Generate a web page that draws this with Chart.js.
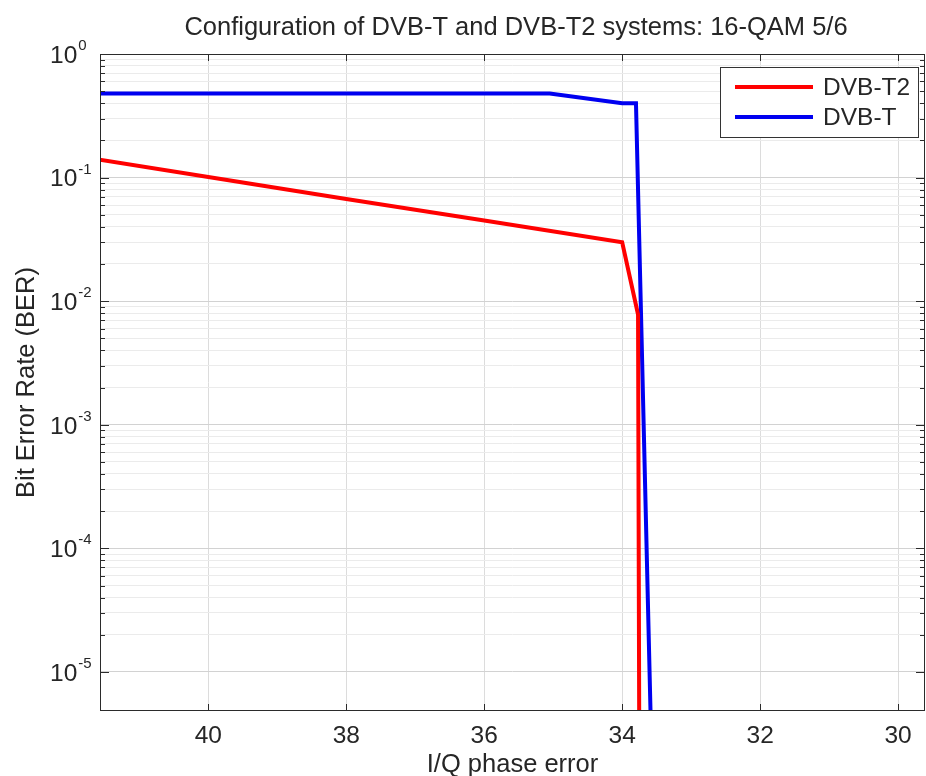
<!DOCTYPE html>
<html>
<head>
<meta charset="utf-8">
<title>DVB-T / DVB-T2 BER vs I/Q phase error</title>
<script src="https://cdn.jsdelivr.net/npm/chart.js@4.4.1/dist/chart.umd.min.js"></script>
<style>
  html, body { margin: 0; padding: 0; background: #ffffff; }
  #chart { display: block; }
</style>
</head>
<body>
<canvas id="chart" width="926" height="776"></canvas>
<script>
// DVB-T2 curve: I/Q phase error vs bit error rate
const t2Phase = [42, 40, 38, 36, 34.0, 33.77, 33.75];
const t2Ber   = [0.152, 0.101, 0.067, 0.045, 0.030, 0.0078, 1e-6];

// DVB-T curve
const tPhase = [42, 35.05, 34.0, 33.8, 33.56];
const tBer   = [0.48, 0.48, 0.40, 0.40, 1e-6];

// axis ticks
const phaseTicks = [40, 38, 36, 34, 32, 30];
const berExponents = [0, -1, -2, -3, -4, -5];

const seriesNames = ['DVB-T2', 'DVB-T'];
const seriesColors = ['#ff0000', '#0000f0'];

const titleText = 'Configuration of DVB-T and DVB-T2 systems: 16-QAM 5/6';
const xTitle = 'I/Q phase error';
const yTitle = 'Bit Error Rate (BER)';

const FONT = "'Liberation Sans', Arial, Helvetica, sans-serif";
const TEXT = '#262626';
const AXIS = '#2b2b2b';

function toPoints(xs, ys) {
  return xs.map((v, i) => ({ x: v, y: ys[i] }));
}

function isDecade(v) {
  const l = Math.log10(v);
  return Math.abs(l - Math.round(l)) < 1e-9;
}

// box, inward tick marks, superscript tick labels, title and legend
const framePlugin = {
  id: 'frame',
  afterDraw(chart) {
    const { ctx, chartArea: a, scales } = chart;
    const xs = scales.x, ys = scales.y;
    ctx.save();
    ctx.strokeStyle = AXIS;
    ctx.lineWidth = 1;
    ctx.strokeRect(a.left + 0.5, a.top + 0.5, a.right - a.left - 1, a.bottom - a.top - 1);

    ctx.beginPath();
    phaseTicks.forEach(v => {
      const px = Math.round(xs.getPixelForValue(v)) + 0.5;
      ctx.moveTo(px, a.bottom); ctx.lineTo(px, a.bottom - 7);
      ctx.moveTo(px, a.top); ctx.lineTo(px, a.top + 7);
    });
    ys.ticks.forEach(t => {
      const py = Math.round(ys.getPixelForValue(t.value)) + 0.5;
      const len = isDecade(t.value) ? 9 : 5;
      ctx.moveTo(a.left, py); ctx.lineTo(a.left + len, py);
      ctx.moveTo(a.right, py); ctx.lineTo(a.right - len, py);
    });
    ctx.stroke();

    // y tick labels: 10 with raised exponent
    ctx.fillStyle = TEXT;
    ctx.textBaseline = 'middle';
    ctx.textAlign = 'left';
    berExponents.forEach(e => {
      const py = ys.getPixelForValue(Math.pow(10, e));
      ctx.font = '24.5px ' + FONT;
      ctx.fillText('10', 50, py + 2);
      const w = ctx.measureText('10').width;
      ctx.font = '15px ' + FONT;
      ctx.fillText(e === 0 ? '0' : '-' + Math.abs(e), 50 + w + 1, py - 8);
    });

    // title
    ctx.font = '25.5px ' + FONT;
    ctx.textAlign = 'center';
    ctx.fillText(titleText, (a.left + a.right) / 2 + 3.5, 28);

    // legend
    const lx = 720, ly = 67, lw = 198, lh = 70;
    ctx.fillStyle = '#ffffff';
    ctx.fillRect(lx, ly, lw, lh);
    ctx.strokeStyle = '#333333';
    ctx.lineWidth = 1;
    ctx.strokeRect(lx + 0.5, ly + 0.5, lw, lh);
    seriesNames.forEach((name, i) => {
      const yy = 87 + i * 30;
      ctx.strokeStyle = seriesColors[i];
      ctx.lineWidth = 4;
      ctx.beginPath();
      ctx.moveTo(735, yy); ctx.lineTo(813, yy);
      ctx.stroke();
      ctx.fillStyle = TEXT;
      ctx.font = '24.5px ' + FONT;
      ctx.textAlign = 'left';
      ctx.fillText(name, 823, yy + 1);
    });
    ctx.restore();
  }
};

new Chart(document.getElementById('chart'), {
  type: 'line',
  data: {
    datasets: [
      {
        label: seriesNames[0],
        data: toPoints(t2Phase, t2Ber),
        borderColor: seriesColors[0],
        borderWidth: 4,
        pointRadius: 0,
        tension: 0,
        clip: 0
      },
      {
        label: seriesNames[1],
        data: toPoints(tPhase, tBer),
        borderColor: seriesColors[1],
        borderWidth: 4,
        pointRadius: 0,
        tension: 0,
        clip: 0
      }
    ]
  },
  options: {
    responsive: false,
    animation: false,
    devicePixelRatio: 1,
    layout: { padding: { top: 54, right: 1, left: 0, bottom: 0 } },
    plugins: {
      legend: { display: false },
      tooltip: { enabled: false },
      title: { display: false }
    },
    scales: {
      x: {
        type: 'linear',
        reverse: true,
        min: 29.61,
        max: 41.57,
        afterBuildTicks: s => { s.ticks = phaseTicks.map(v => ({ value: v })); },
        afterFit: s => { s.height = 65; },
        border: { display: false },
        grid: { color: '#dcdcdc', lineWidth: 1, drawTicks: false },
        ticks: {
          color: TEXT,
          font: { family: FONT, size: 24.5 },
          padding: 11,
          maxRotation: 0,
          autoSkip: false
        },
        title: {
          display: true,
          text: xTitle,
          color: TEXT,
          font: { family: FONT, size: 25.5 },
          padding: { top: 0, bottom: -4 }
        }
      },
      y: {
        type: 'logarithmic',
        min: 4.83e-6,
        max: 1,
        afterBuildTicks: s => {
          const out = [];
          berExponents.slice().reverse().forEach(e => {
            for (let m = 1; m <= 9; m++) {
              const v = m * Math.pow(10, e);
              if (v >= s.min * 0.999 && v <= s.max * 1.001) out.push({ value: v });
            }
          });
          s.ticks = out;
        },
        afterFit: s => { s.width = 100; },
        border: { display: false },
        grid: {
          drawTicks: false,
          lineWidth: 1,
          color: c => (c.tick && isDecade(c.tick.value)) ? '#d2d2d2' : '#ebebeb'
        },
        ticks: { display: false },
        title: {
          display: true,
          text: yTitle,
          color: TEXT,
          font: { family: FONT, size: 25.5 },
          padding: { top: 12, bottom: 0 }
        }
      }
    }
  },
  plugins: [framePlugin]
});
</script>
</body>
</html>
